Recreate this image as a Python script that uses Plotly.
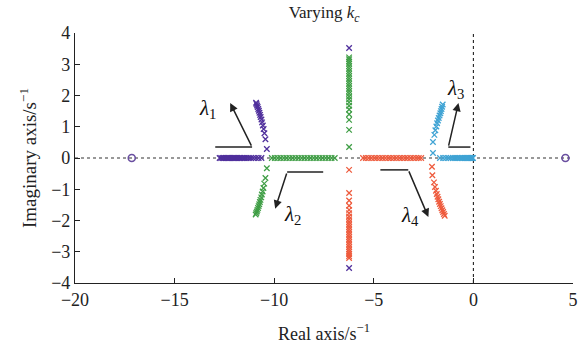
import plotly.graph_objects as go

# ---- root-locus data: eigenvalues while k_c varies ----
# lambda_1 (purple): real-axis part and upper complex branch
purple_re_x = [-12.74, -12.66, -12.58, -12.51, -12.44, -12.38, -12.32, -12.26, -12.20,
               -12.14, -12.08, -12.02, -11.96, -11.90, -11.84, -11.77, -11.70, -11.63,
               -11.55, -11.47, -11.38, -11.28, -11.17, -11.05, -10.92, -10.78, -10.64]
purple_cx_x = [-10.37, -10.44, -10.49, -10.53, -10.57, -10.61, -10.64, -10.68,
               -10.71, -10.74, -10.77, -10.80, -10.83, -10.86, -10.89, -10.91]
purple_cx_y = [0.29, 0.60, 0.79, 0.93, 1.04, 1.14, 1.23, 1.31,
               1.38, 1.45, 1.51, 1.57, 1.63, 1.68, 1.73, 1.77]
purple_pair_x = [-6.24, -6.24]
purple_pair_y = [3.52, -3.52]

# lambda_2 (green): real-axis part, lower complex branch, upper imaginary column
green_re_x = [-10.12, -9.97, -9.82, -9.67, -9.52, -9.37, -9.22, -9.07, -8.92, -8.77, -8.62,
              -8.47, -8.32, -8.17, -8.02, -7.87, -7.72, -7.57, -7.42, -7.27, -7.12, -6.96]
green_cx_x = [-10.37, -10.44, -10.50, -10.54, -10.58, -10.62, -10.65, -10.69,
              -10.72, -10.75, -10.78, -10.81, -10.84, -10.87, -10.90, -10.93]
green_cx_y = [-0.33, -0.64, -0.82, -0.96, -1.07, -1.17, -1.26, -1.34,
              -1.41, -1.48, -1.54, -1.60, -1.66, -1.71, -1.76, -1.81]
green_col_y = [0.35, 0.90, 1.22, 1.40, 1.55, 1.67, 1.78, 1.88, 1.97, 2.06, 2.14, 2.22, 2.30,
               2.38, 2.46, 2.54, 2.62, 2.70, 2.78, 2.86, 2.94, 3.02, 3.09, 3.16, 3.22]

# lambda_4 (red): lower imaginary column, real-axis part, lower complex branch
red_col_y = [-0.38, -1.12, -1.36, -1.53, -1.66, -1.77, -1.87, -1.96, -2.05, -2.13, -2.21, -2.29,
             -2.37, -2.45, -2.53, -2.61, -2.69, -2.77, -2.85, -2.93, -3.00, -3.07, -3.14, -3.20]
red_re_x = [-5.54, -5.40, -5.26, -5.12, -4.98, -4.84, -4.70, -4.56, -4.42, -4.28, -4.14,
            -4.00, -3.86, -3.72, -3.58, -3.44, -3.30, -3.16, -3.02, -2.88, -2.74, -2.62]
red_cx_x = [-2.08, -2.06, -1.98, -1.93, -1.88, -1.84, -1.80, -1.76,
            -1.72, -1.68, -1.64, -1.60, -1.56, -1.52, -1.48, -1.44]
red_cx_y = [-0.28, -0.55, -0.78, -0.93, -1.05, -1.15, -1.24, -1.32,
            -1.40, -1.47, -1.54, -1.61, -1.67, -1.73, -1.79, -1.85]

# lambda_3 (cyan): upper complex branch and real-axis part near the origin
cyan_cx_x = [-2.03, -2.03, -1.96, -1.91, -1.86, -1.82, -1.78, -1.74, -1.70, -1.66,
             -1.63, -1.60, -1.57, -1.54]
cyan_cx_y = [0.16, 0.51, 0.74, 0.89, 1.01, 1.11, 1.20, 1.28, 1.36, 1.43,
             1.50, 1.57, 1.64, 1.71]
cyan_re_x = [-1.68, -1.52, -1.38, -1.25, -1.13, -1.02, -0.92, -0.83, -0.74, -0.66, -0.58,
             -0.51, -0.44, -0.38, -0.32, -0.26, -0.21, -0.16, -0.12, -0.08, -0.05, -0.02]

# zeros on the real axis
zero_x = [-17.15, 4.62]
zero_y = [0.0, 0.0]

col_x = -6.24

PURPLE = "#4f2f9c"
GREEN = "#3f9e45"
RED = "#ee5a3c"
CYAN = "#3fa3d4"
FONT = "Liberation Serif"


def xs(x, y, color):
    return go.Scatter(
        x=x, y=y, mode="markers", showlegend=False, hoverinfo="skip",
        marker=dict(symbol="x-thin", size=5.5, line=dict(color=color, width=1.25)),
    )


fig = go.Figure()

# reference lines through the origin
fig.add_shape(type="line", x0=-20, x1=5, y0=0, y1=0, xref="x", yref="y",
              line=dict(color="#777777", width=1.3, dash="dot"), layer="below")
fig.add_shape(type="line", x0=0, x1=0, y0=-4, y1=4, xref="x", yref="y",
              line=dict(color="#222222", width=1.1, dash="dot"), layer="below")

fig.add_trace(xs(purple_re_x, [0.0] * len(purple_re_x), PURPLE))
fig.add_trace(xs(purple_cx_x, purple_cx_y, PURPLE))
fig.add_trace(xs(purple_pair_x, purple_pair_y, PURPLE))

fig.add_trace(xs(green_re_x, [0.0] * len(green_re_x), GREEN))
fig.add_trace(xs(green_cx_x, green_cx_y, GREEN))
fig.add_trace(xs([col_x] * len(green_col_y), green_col_y, GREEN))

fig.add_trace(xs([col_x] * len(red_col_y), red_col_y, RED))
fig.add_trace(xs(red_re_x, [0.0] * len(red_re_x), RED))
fig.add_trace(xs(red_cx_x, red_cx_y, RED))

fig.add_trace(xs(cyan_cx_x, cyan_cx_y, CYAN))
fig.add_trace(xs(cyan_re_x, [0.0] * len(cyan_re_x), CYAN))

fig.add_trace(go.Scatter(
    x=zero_x, y=zero_y, mode="markers", showlegend=False, hoverinfo="skip",
    marker=dict(symbol="circle-open", size=7, color="#6a4fa0", line=dict(width=1.6)),
))

# direction arrows: a short horizontal lead plus an arrow along each branch
arrows = [
    # (lead x0, lead x1, lead y, head x, head y, label x, label y, label)
    (-12.96, -11.11, 0.35, -12.21, 1.76, -13.35, 1.57, "<i>λ</i><sub>1</sub>"),
    (-7.54, -9.35, -0.45, -9.95, -1.62, -9.1, -1.82, "<i>λ</i><sub>2</sub>"),
    (-0.15, -1.26, 0.35, -0.75, 1.76, -0.9, 2.2, "<i>λ</i><sub>3</sub>"),
    (-4.67, -3.27, -0.38, -2.26, -1.89, -3.17, -1.87, "<i>λ</i><sub>4</sub>"),
]
for x0, x1, yl, hx, hy, tx, ty, txt in arrows:
    fig.add_shape(type="line", x0=x0, x1=x1, y0=yl, y1=yl, xref="x", yref="y",
                  line=dict(color="#222222", width=1.5))
    fig.add_annotation(x=hx, y=hy, ax=x1, ay=yl, xref="x", yref="y", axref="x", ayref="y",
                       showarrow=True, arrowhead=2, arrowsize=1.1, arrowwidth=1.5,
                       arrowcolor="#222222", text="")
    fig.add_annotation(x=tx, y=ty, xref="x", yref="y", text=txt, showarrow=False,
                       font=dict(family=FONT, size=21, color="#111111"))

axis_common = dict(
    showline=True, linecolor="#222222", linewidth=1.2, mirror=False,
    ticks="inside", ticklen=5, tickwidth=1, tickcolor="#222222",
    showgrid=False, zeroline=False, automargin=False,
    tickfont=dict(family=FONT, size=18, color="#222222"),
)

fig.update_layout(
    width=584, height=345,
    margin=dict(l=75, r=11, t=33, b=62),
    paper_bgcolor="white", plot_bgcolor="white",
    title=dict(text="Varying <i>k</i><sub><i>c</i></sub>", x=0.555, xanchor="center",
               y=0.965, yanchor="middle",
               font=dict(family=FONT, size=17, color="#222222")),
    xaxis=dict(range=[-20, 5], tickvals=[-20, -15, -10, -5, 0, 5],
               title=dict(text="Real axis/s<sup>−1</sup>", standoff=18,
                          font=dict(family=FONT, size=18, color="#222222")),
               **axis_common),
    yaxis=dict(range=[-4, 4], tickvals=[-4, -3, -2, -1, 0, 1, 2, 3, 4],
               title=dict(text="Imaginary axis/s<sup>−1</sup>", standoff=9,
                          font=dict(family=FONT, size=19, color="#222222")),
               **axis_common),
)

fig.write_html("out.html")
